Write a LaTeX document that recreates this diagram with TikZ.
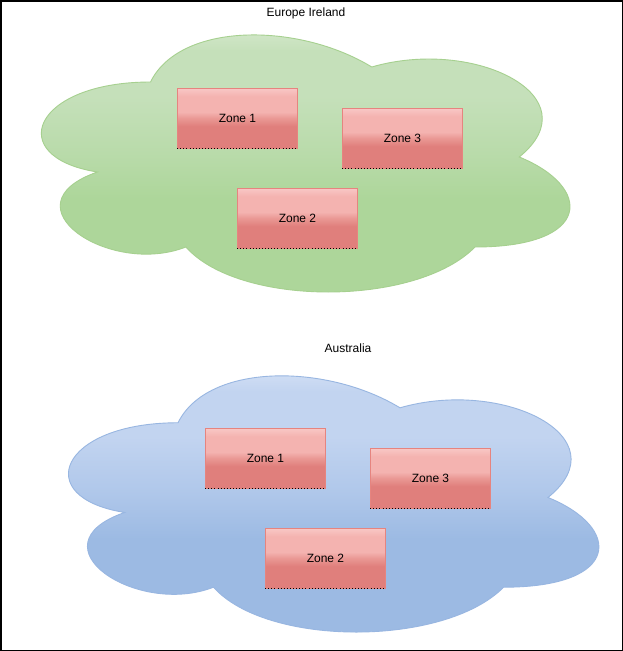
\documentclass[tikz,border=0pt]{standalone}
\usepackage{fontspec}
\setmainfont{Liberation Sans}
\definecolor{gtop}{HTML}{D0E6C7}
\definecolor{gup}{HTML}{C5E0BA}
\definecolor{gmid}{HTML}{B9DBAA}
\definecolor{gbot}{HTML}{ADD69A}
\definecolor{gstroke}{HTML}{A6D08F}
\definecolor{btop}{HTML}{CFDDF4}
\definecolor{bup}{HTML}{C2D4F0}
\definecolor{bmid}{HTML}{AFC7EA}
\definecolor{bbot}{HTML}{9CBAE3}
\definecolor{bstroke}{HTML}{98B6E1}
\definecolor{ztop}{HTML}{F8C8C6}
\definecolor{zup}{HTML}{F4B3B0}
\definecolor{zmid}{HTML}{EA9995}
\definecolor{zbot}{HTML}{E07F7C}
\definecolor{zstroke}{HTML}{E6847F}
\pgfdeclareverticalshading{greenshade}{100bp}{color(0bp)=(gbot); color(44bp)=(gbot); color(52bp)=(gmid); color(62bp)=(gup); color(70bp)=(gup); color(73bp)=(gtop); color(100bp)=(gtop)}
\pgfdeclareverticalshading{blueshade}{100bp}{color(0bp)=(bbot); color(44bp)=(bbot); color(52bp)=(bmid); color(62bp)=(bup); color(70bp)=(bup); color(73bp)=(btop); color(100bp)=(btop)}
\pgfdeclareverticalshading{zoneshade}{100bp}{color(0bp)=(zbot); color(43bp)=(zbot); color(50bp)=(zmid); color(55bp)=(zup); color(68bp)=(zup); color(75bp)=(ztop); color(100bp)=(ztop)}
\tikzset{
  zonebox/.style={rectangle, minimum width=120pt, minimum height=60pt, inner sep=0pt,
    draw=zstroke, line width=0.8pt, shading=zoneshade,
    font=\fontsize{12pt}{14pt}\selectfont, text=black},
  greencloud/.style={draw=gstroke, line width=0.9pt, shading=greenshade},
  bluecloud/.style={draw=bstroke, line width=0.9pt, shading=blueshade},
  title/.style={font=\fontsize{12pt}{14pt}\selectfont, text=black, inner sep=0pt},
  edgedots/.style={black, line width=0.9pt, dash pattern=on 0.9pt off 2.2pt}
}
\begin{document}
\begin{tikzpicture}[x=1pt,y=-1pt]
\useasboundingbox (0,0) rectangle (623,651);
\fill[white] (0,0) rectangle (623,651);
% Europe cloud
\begin{scope}[shift={(3,7)}, x=590pt, y=-300pt]
\path[greencloud] (0.25,0.25) .. controls (0.05,0.25) and (0,0.5) .. (0.16,0.55)
  .. controls (0,0.66) and (0.18,0.9) .. (0.31,0.8)
  .. controls (0.4,1) and (0.7,1) .. (0.8,0.8)
  .. controls (1,0.8) and (1,0.6) .. (0.875,0.5)
  .. controls (1,0.3) and (0.8,0.1) .. (0.625,0.2)
  .. controls (0.5,0.05) and (0.3,0.05) .. (0.25,0.25) -- cycle;
\end{scope}
% Australia cloud
\begin{scope}[shift={(30,348)}, x=592pt, y=-299pt]
\path[bluecloud] (0.25,0.25) .. controls (0.05,0.25) and (0,0.5) .. (0.16,0.55)
  .. controls (0,0.66) and (0.18,0.9) .. (0.31,0.8)
  .. controls (0.4,1) and (0.7,1) .. (0.8,0.8)
  .. controls (1,0.8) and (1,0.6) .. (0.875,0.5)
  .. controls (1,0.3) and (0.8,0.1) .. (0.625,0.2)
  .. controls (0.5,0.05) and (0.3,0.05) .. (0.25,0.25) -- cycle;
\end{scope}
\node[title] (t1) at (306,13) {Europe Ireland};
\node[title] (t2) at (348,348) {Australia};
\node[zonebox] (e1) at (237.5,118) {Zone 1};
\node[zonebox] (e2) at (297.5,218) {Zone 2};
\node[zonebox] (e3) at (402.5,138) {Zone 3};
\node[zonebox] (a1) at (265.5,458) {Zone 1};
\node[zonebox] (a2) at (325.5,558) {Zone 2};
\node[zonebox] (a3) at (430.5,478) {Zone 3};
\foreach \n in {e1,e2,e3,a1,a2,a3}{
  \draw[edgedots] (\n.south west) -- (\n.south east);
}
\draw[black, line width=1.5pt] (0.75,0.75) rectangle (622.25,650.25);
\end{tikzpicture}
\end{document}
